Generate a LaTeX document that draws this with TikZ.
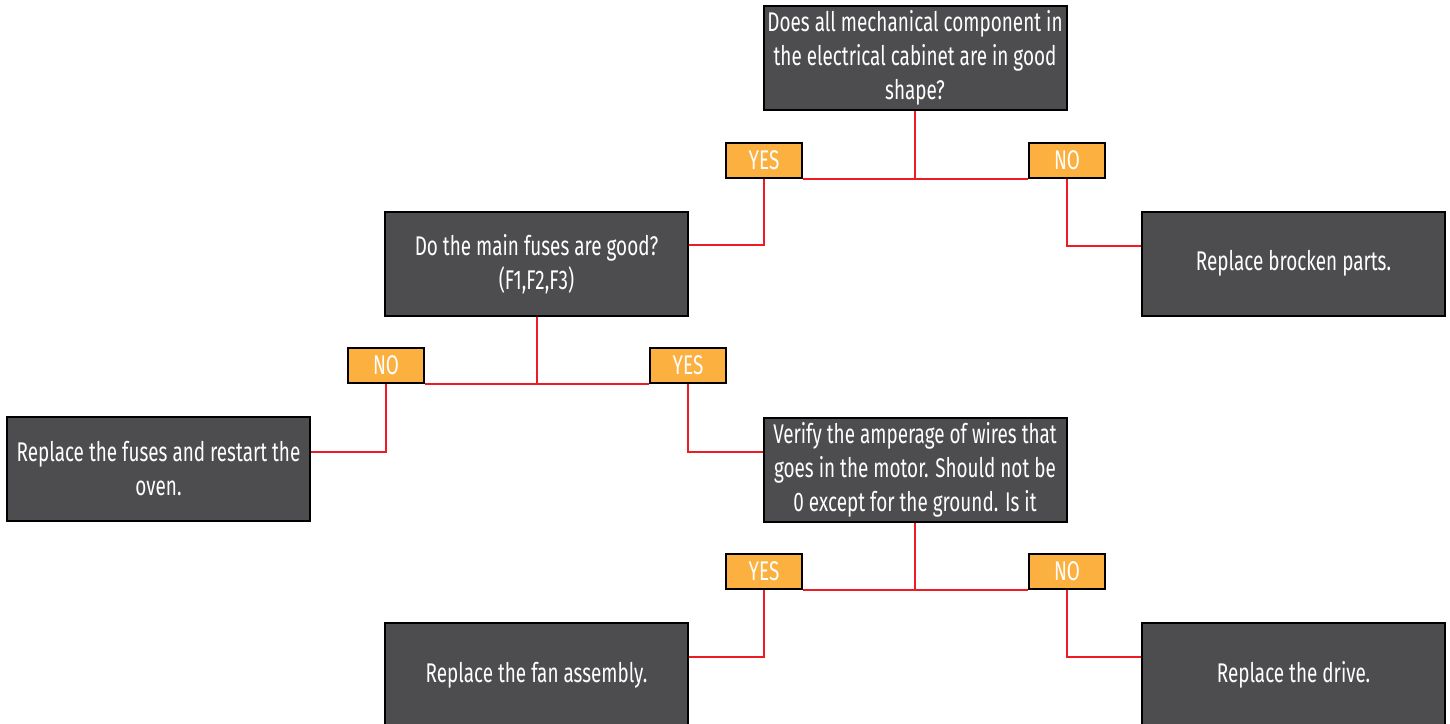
\documentclass[tikz,border=0pt]{standalone}
\usepackage{fontspec}
\setmainfont[FakeStretch=0.70]{Fira Sans}
\usepackage{tikz}
\usetikzlibrary{positioning,calc}
\definecolor{boxgray}{HTML}{4D4D4F}
\definecolor{tagorange}{HTML}{FBB040}
\definecolor{linkred}{HTML}{ED1C24}

\begin{document}
\begin{tikzpicture}[
  x=1pt, y=-1pt,
  darkbox/.style={draw=black, line width=2pt, fill=boxgray, text=white, align=center,
    minimum width=303pt, minimum height=104pt, inner sep=2pt, font=\fontsize{27}{34}\selectfont},
  tagbox/.style={draw=black, line width=2pt, fill=tagorange, text=white,
    minimum width=76pt, minimum height=35pt, inner sep=0pt, font=\fontsize{27}{30}\selectfont},
  redline/.style={draw=linkred, line width=2pt}
]
\useasboundingbox (0,0) rectangle (1450,723);

\node[darkbox] (q1) at (915, 58) {Does all mechanical component in\\the electrical cabinet are in good\\shape?};
\node[darkbox] (q2) at (536.5, 264) {Do the main fuses are good?\\(F1,F2,F3)};
\node[darkbox] (a1) at (1293.5, 263.5) {Replace brocken parts.};
\node[darkbox] (a2) at (158.5, 468.5) {Replace the fuses and restart the\\oven.};
\node[darkbox] (q3) at (915, 469.5) {Verify the amperage of wires that\\goes in the motor. Should not be\\0 except for the ground. Is it};
\node[darkbox] (a3) at (536.5, 675) {Replace the fan assembly.};
\node[darkbox] (a4) at (1293.5, 675) {Replace the drive.};

\node[tagbox] (yes1) at (764, 160.5) {YES};
\node[tagbox] (no1) at (1067, 160.5) {NO};
\node[tagbox] (no2) at (386, 365.5) {NO};
\node[tagbox] (yes2) at (688, 365.5) {YES};
\node[tagbox] (yes3) at (764, 571.5) {YES};
\node[tagbox] (no3) at (1067, 571.5) {NO};

% first question
\draw[redline] (q1.south) -- (q1.south |- yes1.south);
\draw[redline] (yes1.south east) -- (no1.south west);
\draw[redline] (yes1.south) |- ([yshift=19pt]q2.east);
\draw[redline] (no1.south) |- ([yshift=18pt]a1.west);

% second question
\draw[redline] (q2.south) -- (q2.south |- no2.south);
\draw[redline] (no2.south east) -- (yes2.south west);
\draw[redline] (no2.south) |- ([yshift=17pt]a2.east);
\draw[redline] (yes2.south) |- ([yshift=18pt]q3.west);

% third question
\draw[redline] (q3.south) -- (q3.south |- yes3.south);
\draw[redline] (yes3.south east) -- (no3.south west);
\draw[redline] (yes3.south) |- ([yshift=18pt]a3.east);
\draw[redline] (no3.south) |- ([yshift=18pt]a4.west);

% tags over the lines
\foreach \t/\w in {yes1/YES, no1/NO, no2/NO, yes2/YES, yes3/YES, no3/NO}
  \node[tagbox] at (\t) {\w};
\end{tikzpicture}
\end{document}
